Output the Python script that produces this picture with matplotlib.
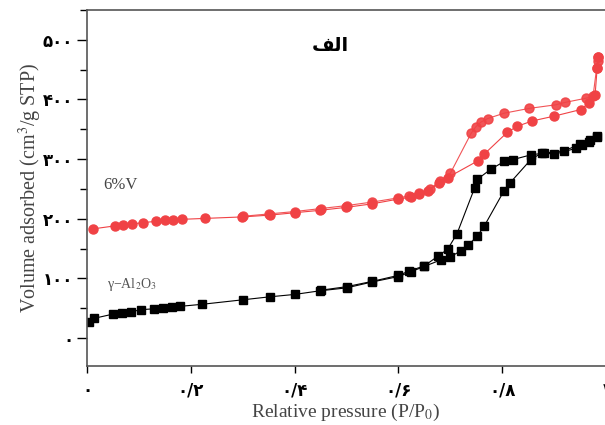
import matplotlib
matplotlib.use("Agg")
import matplotlib.pyplot as plt
from matplotlib.ticker import MultipleLocator, FixedLocator

# gamma-Al2O3 isotherm (adsorption / desorption)
al_ads_p = [0.004, 0.014, 0.05, 0.068, 0.085, 0.105, 0.13, 0.146, 0.163, 0.179,
            0.222, 0.30, 0.352, 0.40, 0.448, 0.50, 0.55, 0.60, 0.624, 0.65,
            0.682, 0.70, 0.72, 0.735, 0.752, 0.765, 0.803, 0.815, 0.855, 0.877,
            0.90, 0.942, 0.954, 0.967, 0.983]
al_ads_v = [27, 33, 40, 42, 44, 47.5, 49, 51, 52, 53,
            56.5, 64, 69, 73, 79, 84, 94, 103, 111, 120,
            131, 136, 146, 156, 171, 187, 246, 260, 299, 311,
            308, 318, 324, 329, 337]
al_des_p = [0.983, 0.97, 0.95, 0.92, 0.88, 0.855, 0.82, 0.804, 0.778, 0.752,
            0.747, 0.713, 0.695, 0.676, 0.65, 0.62, 0.60, 0.55, 0.50, 0.45]
al_des_v = [339, 332, 325, 314, 310, 307, 299, 296, 283, 266,
            252, 175, 149, 137, 121, 112, 105, 95, 86, 80]

# 6%V isotherm (adsorption / desorption)
v_ads_p = [0.012, 0.054, 0.07, 0.087, 0.107, 0.133, 0.15, 0.166, 0.184, 0.227,
           0.299, 0.352, 0.40, 0.448, 0.499, 0.55, 0.60, 0.624, 0.64, 0.657,
           0.679, 0.695, 0.753, 0.765, 0.81, 0.829, 0.858, 0.90, 0.951, 0.967,
           0.979, 0.983, 0.985]
v_ads_v = [183, 188, 190, 191, 193.5, 195.5, 197, 197.5, 199, 200.5,
           203, 206, 210, 214, 219, 225, 233, 236, 242, 247,
           260, 269, 297, 308, 345, 355, 364, 372, 383, 394,
           408, 453, 472]
v_des_p = [0.985, 0.984, 0.982, 0.975, 0.961, 0.921, 0.903, 0.852, 0.804, 0.772,
           0.759, 0.749, 0.74, 0.70, 0.68, 0.66, 0.64, 0.62, 0.60, 0.55,
           0.50, 0.45, 0.40, 0.35, 0.30]
v_des_v = [472, 464, 453, 405, 402, 395, 391, 385, 377, 368,
           362, 354, 343, 276, 263, 249, 243, 238, 235, 228,
           222, 217, 212, 208, 204]

x_ticks = [0, 0.2, 0.4, 0.6, 0.8, 1.0]
x_labels = ["۰", "۰/۲", "۰/۴", "۰/۶", "۰/۸", "۱"]
y_ticks = [0, 100, 200, 300, 400, 500]
y_labels = ["۰", "۱۰۰", "۲۰۰", "۳۰۰", "۴۰۰", "۵۰۰"]

plt.rcParams["mathtext.fontset"] = "stix"

fig = plt.figure(figsize=(6.05, 4.25), dpi=100)
ax = fig.add_axes([87 / 605, 59 / 425, 519 / 605, 356 / 425])

red = "#f04245"
ax.plot(v_ads_p, v_ads_v, "-o", color=red, ms=6.5, lw=0.8, mec=red)
ax.plot(v_des_p, v_des_v, "-o", color=red, ms=6.5, lw=0.8, mec=red, alpha=0.9)
ax.plot(al_ads_p, al_ads_v, "-s", color="black", ms=6, lw=0.8)
ax.plot(al_des_p, al_des_v, "-s", color="black", ms=6, lw=0.8)

ax.set_xlim(0, 1.0)
ax.set_ylim(-47, 550)

ax.xaxis.set_major_locator(FixedLocator(x_ticks))
ax.set_xticklabels(x_labels, fontsize=12, fontweight="bold", family="DejaVu Sans")
ax.yaxis.set_major_locator(FixedLocator(y_ticks))
ax.set_yticklabels(y_labels, fontsize=12, fontweight="bold", family="DejaVu Sans")
ax.yaxis.set_minor_locator(MultipleLocator(50))
ax.tick_params(axis="y", which="major", direction="out", length=7, width=1, pad=3)
ax.tick_params(axis="y", which="minor", direction="out", length=5, width=1)
ax.tick_params(axis="x", which="major", direction="out", length=5, width=1, pad=6)

for side in ["left", "bottom", "top"]:
    ax.spines[side].set_color("#555555")
    ax.spines[side].set_linewidth(1.2)
ax.spines["right"].set_visible(False)

# pre-shaped Arabic "الف" (presentation forms, visual order)
ax.text(0.468, 0.90, "\ufed2\ufedf\ufe8d", transform=ax.transAxes, ha="center",
        va="center", fontsize=14, fontweight="bold", family="DejaVu Sans")
ax.text(0.031, 0.508, "6%V", transform=ax.transAxes, ha="left", va="center",
        fontsize=12, family="Liberation Serif", color="#444444")
ax.text(0.038, 0.23, "γ−Al$_2$O$_3$", transform=ax.transAxes, ha="left",
        va="center", fontsize=10, family="Liberation Serif", color="#555555")

fig.text(30 / 605, 1 - 188 / 425, r"Volume adsorbed (cm$^3$/g STP)", rotation=90,
         ha="center", va="center", fontsize=14.5, family="Liberation Serif", color="#444444")
fig.text(346 / 605, 1 - 412 / 425, r"Relative pressure (P/P$_0$)",
         ha="center", va="center", fontsize=14, family="Liberation Serif", color="#444444")

fig.savefig("out.png", dpi=100)
